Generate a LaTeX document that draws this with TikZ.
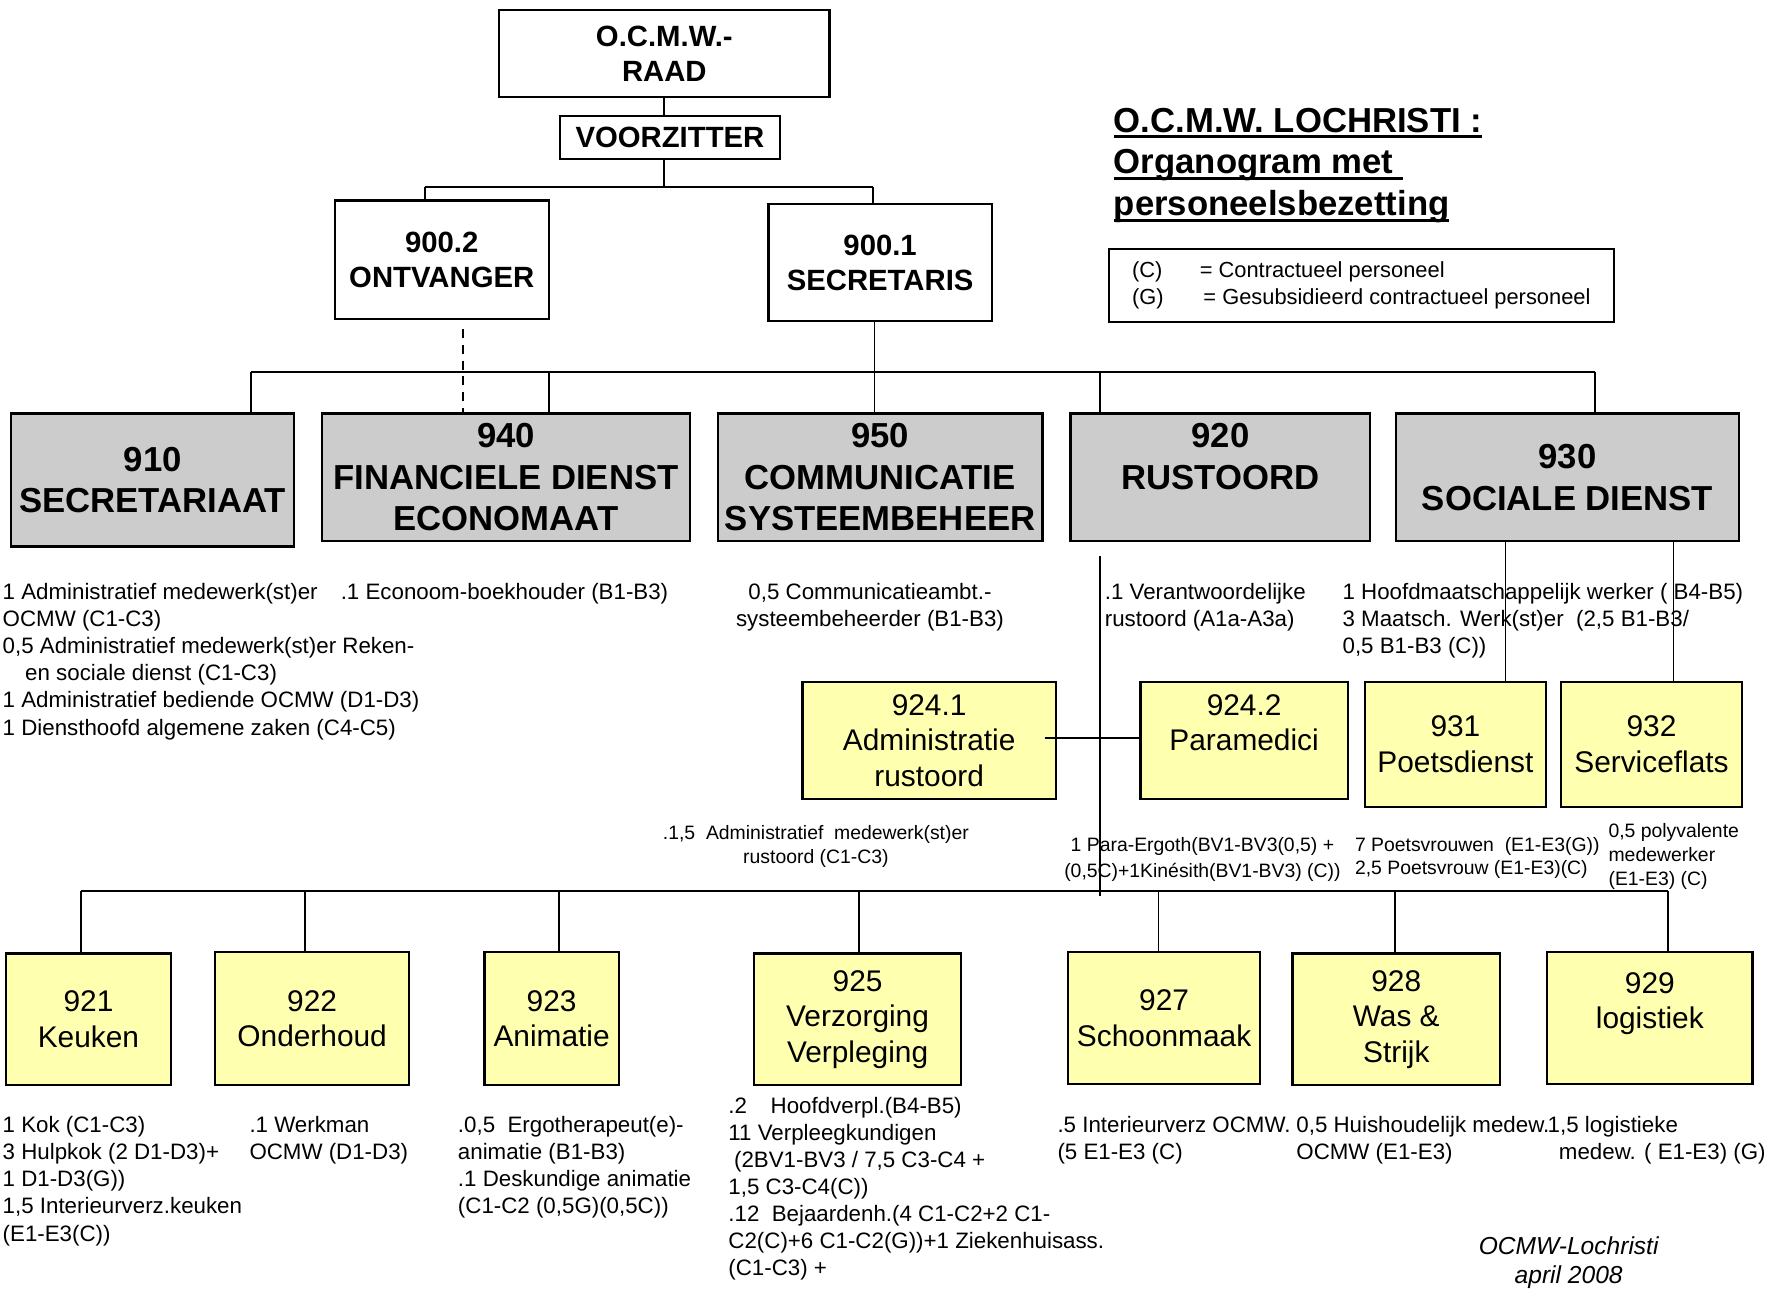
\documentclass[tikz,border=0pt]{standalone}
\usepackage{fontspec}
\setmainfont{Liberation Sans}
\usetikzlibrary{calc}
\definecolor{grayfill}{RGB}{204,204,204}
\definecolor{yellowfill}{RGB}{255,255,176}
\newcommand\myul[1]{\setbox0\hbox{#1}\rlap{\rule[-2.6pt]{\wd0}{1.3pt}}\box0}
\begin{document}
\begin{tikzpicture}[x=0.5pt,y=-0.5pt,
  topbox/.style={draw,line width=1pt,align=center,inner sep=1pt,font=\bfseries\fontsize{13}{15.5}\selectfont},
  graybox/.style={draw,line width=1pt,fill=grayfill,align=center,inner sep=1pt,font=\bfseries\fontsize{15.4}{18.5}\selectfont},
  ybox/.style={draw,line width=1pt,fill=yellowfill,align=center,inner sep=1pt,font=\fontsize{13.25}{15.75}\selectfont},
  conn/.style={line width=0.8pt},
  txt/.style={align=left,anchor=north west,inner sep=0pt,font=\fontsize{9.9}{12}\selectfont},
  ctxt/.style={align=center,anchor=north,inner sep=0pt,font=\fontsize{9.9}{12}\selectfont},
  stxt/.style={align=left,anchor=north west,inner sep=0pt,font=\fontsize{8.6}{10.5}\selectfont},
  sctxt/.style={align=center,anchor=north,inner sep=0pt,font=\fontsize{8.6}{11.5}\selectfont},
]
\useasboundingbox (0,0) rectangle (1568,1144);

% top level
\node[topbox,minimum width=146.5pt,minimum height=38.5pt] (raad) at (589.5,47.5) {O.C.M.W.-\\RAAD};
\node[topbox,minimum width=97.5pt,minimum height=19pt] (voorz) at (594.5,122) {VOORZITTER};
\node[topbox,minimum width=95pt,minimum height=52.5pt] (ontv) at (392,230.5) {900.2\\ONTVANGER};
\node[topbox,minimum width=99pt,minimum height=52pt] (secr) at (781,233) {900.1\\SECRETARIS};

% title and legend
\node[align=left,anchor=north west,inner sep=0pt,font=\bfseries\fontsize{15.4}{18.5}\selectfont] (title) at (988,95.5)
  {\myul{O.C.M.W. LOCHRISTI :}\\\myul{Organogram met\ }\\\myul{personeelsbezetting}};
\node[draw,line width=1pt,minimum width=224pt,minimum height=32.5pt,align=left,font=\fontsize{9.7}{12}\selectfont] (legend) at (1208,253.5)
  {\makebox[30pt][l]{(C)}= Contractueel personeel\\\makebox[30pt][l]{(G)}\,= Gesubsidieerd contractueel personeel};

% gray departments
\node[graybox,minimum width=125.5pt,minimum height=59pt] (n910) at (135.5,426) {910\\SECRETARIAAT};
\node[graybox,minimum width=163pt,minimum height=56.5pt] (n940) at (449,423.5) {940\\FINANCIELE DIENST\\ECONOMAAT};
\node[graybox,minimum width=144pt,minimum height=56.5pt] (n950) at (781,423.5) {950\\COMMUNICATIE\\SYSTEEMBEHEER};
\node[graybox,minimum width=133pt,minimum height=56.5pt] (n920) at (1083,423.5) {920\\RUSTOORD\\~};
\node[graybox,minimum width=152pt,minimum height=56.5pt] (n930) at (1391,423.5) {930\\SOCIALE DIENST};

% yellow middle
\node[ybox,minimum width=112.5pt,minimum height=52pt] (n9241) at (824.5,657) {924.1\\Administratie\\rustoord};
\node[ybox,minimum width=92pt,minimum height=52pt] (n9242) at (1104,657) {924.2\\Paramedici\\~};
\node[ybox,minimum width=80.5pt,minimum height=55.5pt] (n931) at (1291.5,660.5) {931\\Poetsdienst};
\node[ybox,minimum width=80.5pt,minimum height=55.5pt] (n932) at (1465.5,660.5) {932\\Serviceflats};

% yellow bottom
\node[ybox,minimum width=73.5pt,minimum height=58.5pt] (n921) at (78.5,904.5) {921\\Keuken};
\node[ybox,minimum width=86pt,minimum height=59pt] (n922) at (277,904) {922\\Onderhoud};
\node[ybox,minimum width=59.5pt,minimum height=59pt] (n923) at (489.5,904) {923\\Animatie};
\node[ybox,minimum width=92pt,minimum height=58.5pt] (n925) at (761,904.5) {925\\Verzorging\\Verpleging};
\node[ybox,minimum width=85pt,minimum height=58.5pt] (n927) at (1033,903.5) {927\\Schoonmaak};
\node[ybox,minimum width=92pt,minimum height=58.5pt] (n928) at (1239,904.5) {928\\Was \&\\Strijk};
\node[ybox,minimum width=91pt,minimum height=58.5pt] (n929) at (1464,903.5) {929\\logistiek\\~};

% connectors top
\coordinate (c0) at (589,166);
\coordinate (b1L) at (377,166);
\coordinate (b1R) at (775,166);
\draw[conn] (c0 |- raad.south) -- (c0 |- voorz.north);
\draw[conn] (c0 |- voorz.south) -- (c0);
\draw[conn] (b1L) -- (b1R);
\draw[conn] (b1L) -- (b1L |- ontv.north);
\draw[conn] (b1R) -- (b1R |- secr.north);

\coordinate (d1) at (411,292);
\draw[conn,dash pattern=on 4pt off 3pt] (d1) -- (d1 |- n940.north);

% second bus
\coordinate (b2a) at (223,330);
\coordinate (b2b) at (487,330);
\coordinate (b2c) at (776,330);
\coordinate (b2d) at (976,330);
\coordinate (b2e) at (1415,330);
\draw[conn] (b2c |- secr.south) -- (b2c |- n950.north);
\draw[conn] (b2a) -- (b2e);
\draw[conn] (b2a) -- (b2a |- n910.north);
\draw[conn] (b2b) -- (b2b |- n940.north);
\draw[conn] (b2d) -- (b2d |- n920.north);
\draw[conn] (b2e) -- (b2e |- n930.north);

% rustoord vertical and paramedici link
\coordinate (v2) at (976,795);
\draw[conn] ([yshift=-6pt]v2 |- n920.south) -- (v2);
\draw[line width=1pt] ([xshift=-5.5pt,yshift=1pt]n9241.east) -- ([yshift=1pt]n9242.west);

% sociale dienst drops
\coordinate (s1) at (1336,480);
\coordinate (s2) at (1485,480);
\draw[conn] (s1 |- n930.south) -- (s1 |- n931.north);
\draw[conn] (s2 |- n930.south) -- (s2 |- n932.north);

% bottom bus
\coordinate (b3a) at (72,791);
\coordinate (b3b) at (271,791);
\coordinate (b3c) at (496,791);
\coordinate (b3d) at (762,791);
\coordinate (b3e) at (1028,791);
\coordinate (b3f) at (1238,791);
\coordinate (b3g) at (1480,791);
\draw[conn] (b3a) -- (b3g);
\draw[conn] (b3a) -- (b3a |- n921.north);
\draw[conn] (b3b) -- (b3b |- n922.north);
\draw[conn] (b3c) -- (b3c |- n923.north);
\draw[conn] (b3d) -- (b3d |- n925.north);
\draw[conn] (b3e) -- (b3e |- n927.north);
\draw[conn] (b3f) -- (b3f |- n928.north);
\draw[conn] (b3g) -- (b3g |- n929.north);

% staff texts
\node[txt] (t910) at (2,517.5) {1 Administratief medewerk(st)er\\OCMW (C1-C3)\\0,5 Administratief medewerk(st)er Reken-\\\hspace*{10pt}en sociale dienst (C1-C3)\\1 Administratief bediende OCMW (D1-D3)\\1 Diensthoofd algemene zaken (C4-C5)};
\node[txt] (t940) at (302,517.5) {.1 Econoom-boekhouder (B1-B3)};
\node[ctxt] (t950) at (772,517.5) {0,5 Communicatieambt.-\\systeembeheerder (B1-B3)};
\node[txt] (t920) at (980,517.5) {.1 Verantwoordelijke\\rustoord (A1a-A3a)};
\node[txt] (t930) at (1191,517.5) {1 Hoofdmaatschappelijk werker ( B4-B5)\\3 Maatsch. Werk(st)er\ \ (2,5 B1-B3/\\0,5 B1-B3 (C))};

\node[sctxt,font=\fontsize{8.6}{10.5}\selectfont] (t9241) at (724,732.5) {.1,5\ \ Administratief\ \ medewerk(st)er\\rustoord (C1-C3)};
\node[sctxt] (t9242) at (1067,742.5) {1 Para-Ergoth(BV1-BV3(0,5) +\\(0,5C)+1Kinésith(BV1-BV3) (C))};
\node[stxt] (t931) at (1202,742.5) {7 Poetsvrouwen\ \ (E1-E3(G))\\2,5 Poetsvrouw (E1-E3)(C)};
\node[stxt] (t932) at (1427,730.5) {0,5 polyvalente\\medewerker\\(E1-E3) (C)};

\node[txt] (t921) at (2,990.5) {1 Kok (C1-C3)\\3 Hulpkok (2 D1-D3)+\\1 D1-D3(G))\\1,5 Interieurverz.keuken\\(E1-E3(C))};
\node[txt] (t922) at (221,990.5) {.1 Werkman\\OCMW (D1-D3)};
\node[txt] (t923) at (406,990.5) {.0,5\ \ Ergotherapeut(e)-\\animatie (B1-B3)\\.1 Deskundige animatie\\(C1-C2 (0,5G)(0,5C))};
\node[txt] (t925) at (646,973.5) {.2\hspace{10.5pt}Hoofdverpl.(B4-B5)\\11 Verpleegkundigen\\\hspace*{2.5pt}(2BV1-BV3 / 7,5 C3-C4 +\\1,5 C3-C4(C))\\.12\ \ Bejaardenh.(4 C1-C2+2 C1-\\C2(C)+6 C1-C2(G))+1 Ziekenhuisass.\\(C1-C3) +};
\node[txt] (t927) at (938,990.5) {.5 Interieurverz OCMW.\\(5 E1-E3 (C)};
\node[txt] (t928) at (1150,990.5) {0,5 Huishoudelijk medew.\\OCMW (E1-E3)};
\node[txt] (t929) at (1373,990.5) {1,5 logistieke\\\hspace*{5pt}medew. ( E1-E3) (G)};

\node[align=center,anchor=north,inner sep=0pt,font=\itshape\fontsize{10.9}{13}\selectfont] (footer) at (1392,1097) {OCMW-Lochristi\\april 2008};
\end{tikzpicture}
\end{document}
